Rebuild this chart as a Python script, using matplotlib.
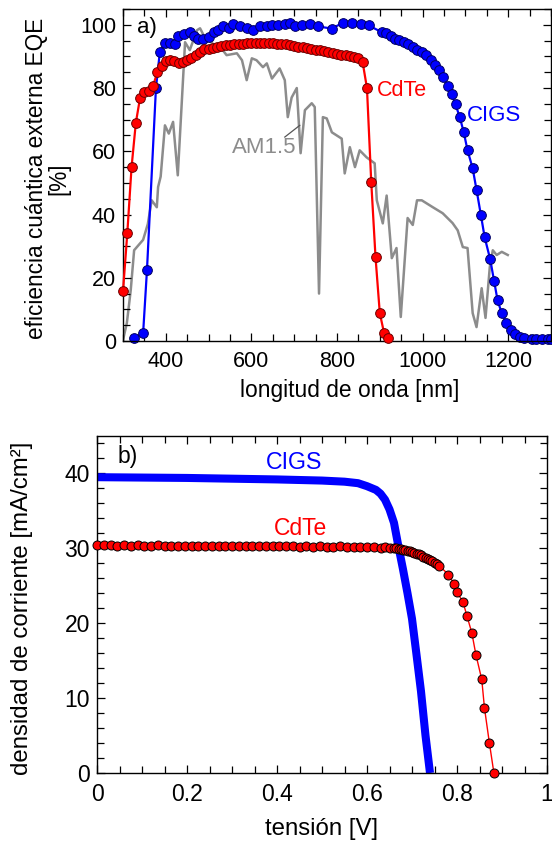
import matplotlib
matplotlib.use("Agg")
import matplotlib.pyplot as plt
from matplotlib.ticker import MultipleLocator

plt.rcParams['font.family'] = ['Liberation Sans', 'DejaVu Sans']

# --- a) EQE ---
cdte_wl = [300, 310, 320, 330, 340, 350, 360, 370, 380, 390, 400, 410, 420, 430, 440, 450,
           460, 470, 480, 490, 500, 510, 520, 530, 540, 550, 560, 570, 580, 590, 600, 610,
           620, 630, 640, 650, 660, 670, 680, 690, 700, 710, 720, 730, 740, 750, 760, 770,
           780, 790, 800, 810, 820, 830, 840, 850, 860, 870, 880, 890, 900, 910, 920]
cdte_eqe = [15.8, 34, 55, 69, 77, 78.7, 79, 80.5, 85, 87, 88.5, 88.8, 88.5, 88, 88.3, 89,
            89.4, 90.5, 91.5, 92.2, 92.5, 92.8, 93, 93.3, 93.5, 93.5, 93.8, 94, 94, 94.1, 94.1, 94.1,
            94.1, 94.1, 94.1, 94.1, 94, 93.9, 93.8, 93.6, 93.4, 93.1, 92.9, 92.6, 92.4, 92.1, 91.9, 91.6,
            91.3, 91.1, 90.8, 90.6, 90.3, 90.0, 89.8, 89.4, 88.1, 80, 50.3, 26.5, 8.8, 2.5, 0.8]

cigs_wl = [326, 347, 356, 377, 386, 398, 410, 421, 429, 443, 456, 466, 475, 487, 501, 512,
           522, 534, 547, 557, 573, 589, 603, 620, 636, 648, 662, 678, 690, 701, 718, 736,
           755, 788, 813, 834, 855, 874, 904, 914, 925, 935, 944, 956, 965, 977, 986, 998,
           1007, 1019, 1028, 1038, 1047, 1059, 1068, 1077, 1087, 1096, 1105, 1117, 1126, 1136,
           1145, 1158, 1167, 1175, 1185, 1196, 1206, 1215, 1227, 1238, 1255, 1266, 1280, 1292, 1300]
cigs_eqe = [1, 2.5, 22.4, 80, 91.3, 94.4, 94.4, 94, 96.4, 97, 97.8, 96.5, 95.6, 95.4, 96, 97.8,
            98.5, 99.5, 99, 100.2, 99.5, 99, 98.3, 99.5, 99.5, 100, 100, 100.2, 100.5, 99.5, 99.8, 100.3,
            99.5, 98.8, 100.6, 100.6, 100.2, 99.8, 97.7, 97.5, 96.4, 95.4, 95.1, 94.6, 94, 93, 92, 91.4,
            90.4, 88.8, 87.2, 85.6, 83.5, 80.6, 78, 74.8, 70.7, 66.1, 60.3, 54.6, 47.8, 40,
            32.8, 25.8, 19, 13, 8.7, 5.8, 3.5, 2.2, 1.4, 0.9, 0.6, 0.5, 0.5, 0.5, 0.5]

am15_wl = [300, 309, 318, 326, 347, 358, 367, 379, 382, 388, 398, 407, 417, 428, 445, 456,
           473, 480, 491, 510, 533, 542, 566, 578, 589, 601, 612, 627, 636, 648, 666, 678,
           685, 694, 706, 715, 725, 741, 748, 758, 767, 776, 788, 811, 818, 830, 842, 853,
           869, 888, 893, 907, 916, 928, 939, 949, 965, 977, 987, 998, 1024, 1047, 1070, 1082,
           1094, 1105, 1117, 1126, 1138, 1147, 1157, 1164, 1173, 1185, 1199]
am15_val = [0.3, 5.7, 16, 28.7, 32, 37, 44.5, 42.3, 48.7, 52, 68.2, 65.6, 69.3, 52.4, 94.5, 92,
            98.3, 98.9, 96, 94, 92, 90.4, 91, 88.8, 82.5, 89.4, 88.8, 86.6, 87.8, 83, 86.2, 82.5,
            70.8, 77, 80, 59.4, 73, 75.2, 74, 15, 70.8, 70.4, 66, 64, 53, 61.3, 55, 60.3,
            58.1, 56.2, 44.5, 37.2, 46, 26.2, 29.4, 7.6, 38.9, 36.7, 44.5, 44.5, 42.3, 40.4, 37.3, 35,
            29.7, 29.4, 8.8, 4.4, 16.7, 7.3, 23.4, 28.7, 27.2, 28.2, 27.2]

# --- b) J-V ---
cigs_v = [0.0, 0.1, 0.2, 0.3, 0.4, 0.5, 0.55, 0.58, 0.60, 0.62, 0.63, 0.64, 0.65, 0.66,
          0.67, 0.68, 0.69, 0.70, 0.71, 0.72, 0.73, 0.74]
cigs_j = [39.5, 39.45, 39.4, 39.3, 39.2, 39.05, 38.9, 38.7, 38.3, 37.8, 37.3, 36.5, 35.2, 33.4,
          30.2, 27.2, 24.0, 20.6, 15.8, 10.9, 5.0, 0.0]

cdte_v = [0.0, 0.015, 0.03, 0.045, 0.06, 0.075, 0.09, 0.105, 0.12, 0.135, 0.15, 0.165, 0.18,
          0.195, 0.21, 0.225, 0.24, 0.255, 0.27, 0.285, 0.30, 0.315, 0.33, 0.345, 0.36, 0.375,
          0.39, 0.405, 0.42, 0.435, 0.45, 0.465, 0.48, 0.495, 0.51, 0.525, 0.54, 0.555, 0.57,
          0.585, 0.60, 0.615, 0.63, 0.64, 0.65, 0.66, 0.665, 0.67, 0.675, 0.68, 0.685, 0.69,
          0.695, 0.70, 0.705, 0.71, 0.715, 0.72, 0.725, 0.73, 0.735, 0.74, 0.745, 0.75, 0.755,
          0.76, 0.781, 0.793, 0.799, 0.813, 0.822, 0.833, 0.842, 0.855, 0.861, 0.872, 0.882]
cdte_j = [30.4, 30.4, 30.4, 30.35, 30.4, 30.35, 30.4, 30.35, 30.35, 30.4, 30.35, 30.35, 30.35,
          30.3, 30.35, 30.3, 30.35, 30.3, 30.3, 30.35, 30.3, 30.3, 30.3, 30.3, 30.3, 30.3,
          30.3, 30.25, 30.25, 30.3, 30.2, 30.25, 30.2, 30.3, 30.2, 30.2, 30.3, 30.2, 30.2,
          30.2, 30.15, 30.2, 30.1, 30.15, 30.1, 30.05, 30.0, 29.95, 29.9, 29.8, 29.75, 29.7,
          29.6, 29.5, 29.4, 29.3, 29.2, 29.05, 28.9, 28.75, 28.6, 28.45, 28.3, 28.1, 27.9,
          27.7, 26.5, 25.3, 24.2, 22.9, 21.0, 18.7, 15.8, 12.5, 8.7, 4.0, 0.0]

RED = '#ff0000'
BLUE = '#0000ff'

fig = plt.figure(figsize=(5.52, 8.42), dpi=100)
ax1 = fig.add_axes([123 / 552, 1 - 341 / 842, 428 / 552, 332 / 842])
ax2 = fig.add_axes([97 / 552, 1 - 773 / 842, 450 / 552, 337 / 842])

# panel a
ax1.plot(am15_wl, am15_val, color='#8c8c8c', lw=1.8, zorder=1)
ax1.plot(cdte_wl, cdte_eqe, '-o', color=RED, lw=1.6, ms=7, mfc=RED, mec='#6a0000',
         mew=0.7, zorder=3, clip_on=False)
ax1.plot(cigs_wl, cigs_eqe, '-o', color=BLUE, lw=1.6, ms=7, mfc=BLUE, mec='#000060',
         mew=0.7, zorder=2, clip_on=False)
ax1.set_xlim(300, 1300)
ax1.set_ylim(0, 105)
ax1.xaxis.set_major_locator(MultipleLocator(200))
ax1.xaxis.set_minor_locator(MultipleLocator(50))
ax1.yaxis.set_major_locator(MultipleLocator(20))
ax1.yaxis.set_minor_locator(MultipleLocator(5))
ax1.set_xlabel('longitud de onda [nm]', fontsize=16.4)
ax1.set_ylabel('eficiencia cuántica externa EQE\n[%]', fontsize=16.3, linespacing=1.0)
ax1.xaxis.set_label_coords(0.53, -0.115)
ax1.yaxis.set_label_coords(-0.122, 0.49)
ax1.text(332, 99, 'a)', fontsize=16, va='center', ha='left')
ax1.text(951, 79.3, 'CdTe', color=RED, fontsize=15.5, ha='center', va='center')
ax1.text(1166, 71.4, 'CIGS', color=BLUE, fontsize=16, ha='center', va='center')
ax1.text(629, 61.3, 'AM1.5', color='#8c8c8c', fontsize=16, ha='center', va='center')
ax1.plot([678, 713], [64.5, 68.2], color='#555555', lw=0.9)

# panel b
ax2.plot(cigs_v, cigs_j, color=BLUE, lw=5.8, solid_capstyle='butt', zorder=2)
ax2.plot(cdte_v, cdte_j, '-o', color=RED, lw=1.0, ms=6.5, mfc=RED, mec='black',
         mew=0.7, zorder=3, clip_on=False)
ax2.set_xlim(0, 1)
ax2.set_ylim(0, 45)
ax2.xaxis.set_major_locator(MultipleLocator(0.2))
ax2.xaxis.set_minor_locator(MultipleLocator(0.05))
ax2.yaxis.set_major_locator(MultipleLocator(10))
ax2.yaxis.set_minor_locator(MultipleLocator(2))
ax2.set_xticks([0, 0.2, 0.4, 0.6, 0.8, 1.0])
ax2.set_xticklabels(['0', '0.2', '0.4', '0.6', '0.8', '1'])
ax2.set_xlabel('tensión [V]', fontsize=17.3)
ax2.set_ylabel('densidad de corriente [mA/cm²]', fontsize=17.3)
ax2.xaxis.set_label_coords(0.5, -0.135)
ax2.yaxis.set_label_coords(-0.142, 0.49)
ax2.text(0.045, 42.2, 'b)', fontsize=16.5, va='center', ha='left')
ax2.text(0.437, 41.4, 'CIGS', color=BLUE, fontsize=16.7, ha='center', va='center')
ax2.text(0.453, 32.7, 'CdTe', color=RED, fontsize=16.5, ha='center', va='center')

for ax, fs in ((ax1, 15.5), (ax2, 16.5)):
    for s in ax.spines.values():
        s.set_linewidth(1.0)
    ax.tick_params(which='both', direction='in', top=True, right=True, width=0.9,
                   labelsize=fs)
    ax.tick_params(which='major', length=6)
    ax.tick_params(which='minor', length=5)
    ax.tick_params(axis='x', pad=7)
    ax.tick_params(axis='y', pad=5)

fig.savefig('out.png', dpi=100)
